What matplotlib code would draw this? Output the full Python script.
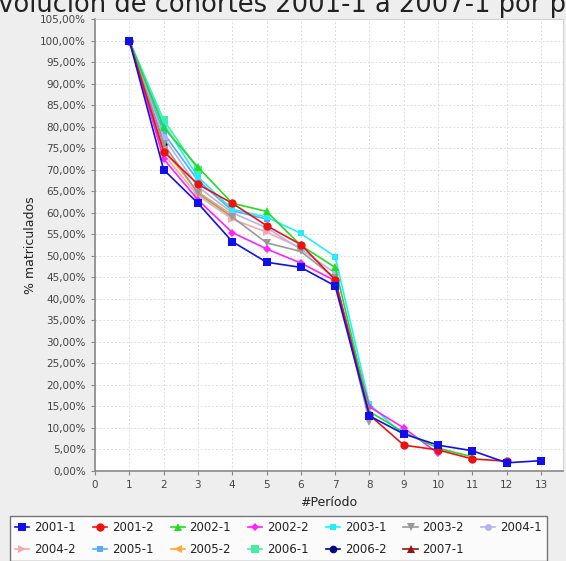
import matplotlib
matplotlib.use("Agg")
import matplotlib.pyplot as plt
from matplotlib.ticker import FuncFormatter, MultipleLocator

cohorts = ["2001-1", "2001-2", "2002-1", "2002-2", "2003-1", "2003-2", "2004-1",
           "2004-2", "2005-1", "2005-2", "2006-1", "2006-2", "2007-1"]

v_2001_1 = [100, 70.0, 62.2, 53.3, 48.5, 47.3, 43.0, 12.8, 8.6, 6.0, 4.7, 1.9, 2.4]
v_2001_2 = [100, 74.2, 66.6, 62.2, 57.0, 52.6, 44.4, 13.0, 6.0, 4.9, 2.8, 2.3]
v_2002_1 = [100, 79.8, 70.6, 62.2, 60.3, 52.4, 47.3, 13.8, 9.0, 5.3, 3.3]
v_2002_2 = [100, 72.5, 63.0, 55.4, 51.6, 48.3, 44.2, 14.9, 10.0, 4.1]
v_2003_1 = [100, 80.7, 68.3, 60.8, 59.0, 55.2, 49.8, 15.5, 8.3]
v_2003_2 = [100, 76.0, 64.5, 59.0, 53.0, 51.0, 44.8, 11.4]
v_2004_1 = [100, 77.5, 66.0, 60.0, 56.5, 51.5, 46.0]
v_2004_2 = [100, 73.5, 64.0, 58.5, 55.5, 51.8]
v_2005_1 = [100, 78.5, 67.5, 60.5, 58.5]
v_2005_2 = [100, 74.8, 64.8, 59.5]
v_2006_1 = [100, 81.5, 70.0]
v_2006_2 = [100, 76.0]
v_2007_1 = [100]

series = [v_2001_1, v_2001_2, v_2002_1, v_2002_2, v_2003_1, v_2003_2, v_2004_1,
          v_2004_2, v_2005_1, v_2005_2, v_2006_1, v_2006_2, v_2007_1]

colors = ["#1010ee", "#ee1111", "#22dd22", "#ff22ff", "#22eeff", "#999999", "#b4b4f0",
          "#f5aaaa", "#55aaff", "#ffaa33", "#44eea0", "#000088", "#991111"]
markers = ["s", "o", "^", "D", "s", "v", "o", ">", "s", "<", "s", "o", "^"]
msizes = [6, 6, 6, 4.5, 5, 6, 5, 6, 5, 6, 5.5, 5.5, 6]

W, H = 566, 561
fig = plt.figure(figsize=(W / 100, H / 100), dpi=100)
fig.patch.set_facecolor("#eeeeee")

ax = fig.add_axes([95 / W, 90 / H, 468 / W, 452 / H])
ax.set_facecolor("white")

nser = len(series)
for k, (name, vals, c, m, ms) in enumerate(zip(cohorts, series, colors, markers, msizes)):
    xs = list(range(1, len(vals) + 1))
    ax.plot(xs, vals, color=c, marker=m, markersize=ms, linewidth=1.2,
            label=name, markeredgewidth=0, zorder=3 + (nser - k) * 0.1)

ax.set_xlim(0, 13.64)
ax.set_ylim(0, 105)
ax.xaxis.set_major_locator(MultipleLocator(1))
ax.yaxis.set_major_locator(MultipleLocator(5))
ax.yaxis.set_major_formatter(FuncFormatter(lambda v, p: f"{v:.2f}%".replace(".", ",")))
ax.grid(True, color="#dddddd", linestyle=(0, (2, 2)), linewidth=0.7)
ax.set_axisbelow(True)

for s in ["top", "right"]:
    ax.spines[s].set_color("#cccccc")
    ax.spines[s].set_linewidth(0.6)
for s in ["left", "bottom"]:
    ax.spines[s].set_color("#888888")
    ax.spines[s].set_linewidth(1.2)

ax.tick_params(axis="both", labelsize=7.5, labelcolor="#444444", color="#888888",
               length=3, width=0.8)
ax.set_xlabel("#Período", fontsize=9, color="#222222", labelpad=4)
ax.set_ylabel("% matriculados", fontsize=9, color="#222222", labelpad=2)

fig.text(-18 / W, 1 - 12 / H, "Evolución de cohortes 2001-1 a 2007-1 por período",
         fontsize=18.5, ha="left", va="baseline", color="#222222")

handles, labels = ax.get_legend_handles_labels()
n = len(handles)
ncol = 7
order = []
for c in range(ncol):
    for r in range(2):
        i = r * ncol + c
        if i < n:
            order.append(i)
leg = fig.legend([handles[i] for i in order], [labels[i] for i in order],
                 loc="upper left", bbox_to_anchor=(10 / W, 1 - 516 / H), ncol=ncol,
                 fontsize=8.5, frameon=True, fancybox=False, handlelength=1.2,
                 handletextpad=0.4, columnspacing=1.45, borderpad=0.45,
                 labelspacing=0.75, borderaxespad=0)
leg.get_frame().set_edgecolor("#555555")
leg.get_frame().set_linewidth(1.0)
for t in leg.get_texts():
    t.set_color("#222222")

fig.savefig("out.png", dpi=100, facecolor=fig.get_facecolor())
